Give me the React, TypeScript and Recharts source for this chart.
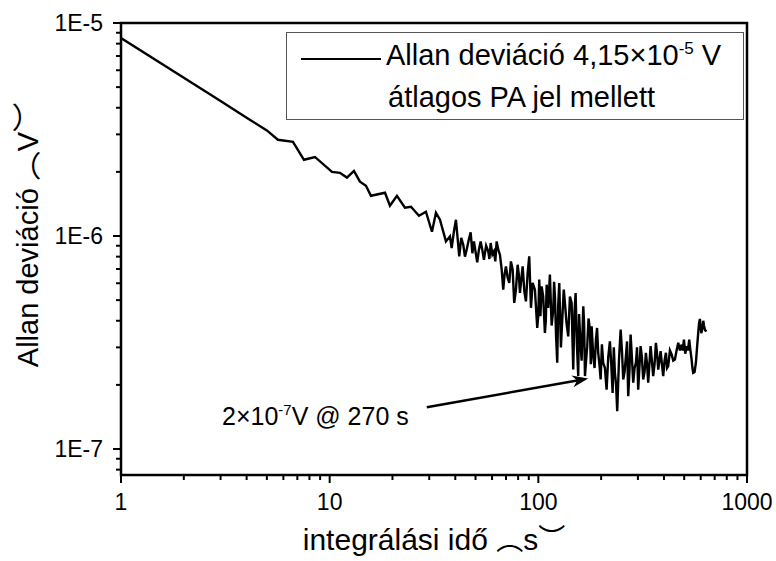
import { LineChart, Line, XAxis, YAxis, ReferenceLine, ReferenceArea } from 'recharts'

// integration time (s)
const tau = [
  1, 2, 3, 4, 5, 5.65, 6.67, 7.53, 8.5, 10.26,
  11.2, 12.1, 13.07, 13.97, 14.93, 15.77, 18.41, 19.45, 21.01, 22.95,
  24.53, 26.79, 28.93, 30.92, 32.31, 33.77, 36.08, 37.71, 38.43, 39.4,
  40.29, 41.78, 42.7, 43.67, 44.5, 45.34, 46.3, 47.38, 48.3, 49.13,
  50.95, 51.9, 52.9, 53.9, 54.86, 56.2, 57.54, 58.3, 59.09, 60.2,
  61.27, 62.2, 63.12, 64.3, 65.46, 66.7, 67.89, 68.9, 69.95, 71.2,
  72.55, 73.9, 75.32, 76.64, 78.1, 79.58, 80.6, 81.64, 82.9, 84.1,
  85.7, 87.22, 88.8, 90.44, 92.2, 93.9, 96.3, 98.79, 99.9, 101,
  102.3, 103.7, 105.5, 107.5, 108.6, 109.6, 111.5, 113.6, 115.8, 117.9,
  119, 120.1, 121.6, 123.2, 124.5, 126, 128.3, 130.7, 132.4, 134.1,
  136.5, 139.1, 141.7, 144.4, 145.7, 147, 149, 150.9, 153, 155.3,
  156.8, 158.3, 161.2, 164.2, 165.7, 167.3, 169.4, 171.5, 174, 176.7,
  178.4, 180.1, 181.7, 183.3, 186, 188.8, 191.2, 193.6, 196.2, 198.9,
  201.7, 204.6, 208.5, 212.4, 216.3, 220.3, 223.6, 227, 230, 232.8,
  235.8, 238.8, 243.4, 248, 251.6, 255.2, 259, 262.9, 266.2, 269.6,
  273.2, 276.8, 280.8, 284.9, 289.2, 293.5, 297.2, 301, 305, 309.1,
  313.6, 318.1, 322.9, 327.7, 331.9, 336.1, 340.6, 345.1, 350.1, 355.2,
  360.6, 366, 370.7, 375.4, 380.4, 385.5, 391.1, 396.7, 402.7, 408.7,
  413.9, 419.2, 427.2, 435.2, 443.2, 451.3, 459.8, 468.3, 477.1, 486,
  492.3, 498.6, 506.1, 513.6, 521.1, 528.6, 535.7, 542.8, 547.6, 552.4,
  560.7, 569, 576.3, 583.7, 589.2, 594.7, 603.7, 612.8, 617.2, 621.6,
  631, 640.4,
]

// Allan deviation (V)
const adev = [
  8.5e-6, 5.53e-6, 4.3e-6, 3.59e-6, 3.13e-6, 2.83e-6, 2.77e-6, 2.28e-6, 2.35e-6, 2.0e-6,
  1.98e-6, 1.88e-6, 2.02e-6, 1.8e-6, 1.72e-6, 1.545e-6, 1.596e-6, 1.387e-6, 1.545e-6, 1.358e-6,
  1.372e-6, 1.245e-6, 1.3e-6, 1.047e-6, 1.286e-6, 1.192e-6, 9.43e-7, 9.96e-7, 8.78e-7, 1.05e-6,
  1.192e-6, 8.02e-7, 9.8e-7, 9.1e-7, 8.0e-7, 8.62e-7, 9.5e-7, 1.04e-6, 8.3e-7, 9.43e-7,
  7.52e-7, 8.6e-7, 9.43e-7, 8.6e-7, 7.74e-7, 9.0e-7, 8.47e-7, 7.8e-7, 9.27e-7, 8.2e-7,
  8.47e-7, 7.6e-7, 9.43e-7, 8.6e-7, 8.17e-7, 7.0e-7, 5.6e-7, 6.6e-7, 7.2e-7, 6.4e-7,
  6.02e-7, 7.6e-7, 6.95e-7, 4.85e-7, 5.6e-7, 7.33e-7, 6.6e-7, 5.4e-7, 6.3e-7, 7.2e-7,
  5.5e-7, 4.93e-7, 6.6e-7, 8.02e-7, 4.6e-7, 6.02e-7, 5.6e-7, 3.7e-7, 4.2e-7, 6.24e-7,
  4.2e-7, 5.8e-7, 5.2e-7, 3.51e-7, 4.0e-7, 5.91e-7, 4.6e-7, 6.59e-7, 3.8e-7, 4.51e-7,
  6.1e-7, 5.21e-7, 3.4e-7, 2.54e-7, 4.7e-7, 6.02e-7, 3.0e-7, 4.36e-7, 5.6e-7, 4.85e-7,
  3.9e-7, 3.38e-7, 5.2e-7, 4.85e-7, 3.3e-7, 2.36e-7, 4.4e-7, 5.4e-7, 3.1e-7, 2.2e-7,
  4.3e-7, 3.51e-7, 2.6e-7, 4.68e-7, 3.9e-7, 2.2e-7, 2.6e-7, 3.04e-7, 4.1e-7, 3.64e-7,
  2.5e-7, 3.77e-7, 3.2e-7, 2.73e-7, 2.4e-7, 3.26e-7, 3.7e-7, 2.83e-7, 2.5e-7, 2.12e-7,
  3.1e-7, 2.54e-7, 2.4e-7, 1.9e-7, 2.7e-7, 3.2e-7, 2.5e-7, 1.835e-7, 3.0e-7, 2.28e-7,
  2.0e-7, 1.505e-7, 2.6e-7, 3.64e-7, 2.9e-7, 2.12e-7, 2.3e-7, 2.73e-7, 3.2e-7, 1.77e-7,
  2.3e-7, 3.45e-7, 2.7e-7, 2.05e-7, 2.4e-7, 2.54e-7, 3.0e-7, 1.9e-7, 2.4e-7, 3.04e-7,
  2.7e-7, 2.12e-7, 2.3e-7, 2.83e-7, 2.5e-7, 2.05e-7, 2.5e-7, 3.04e-7, 2.6e-7, 2.2e-7,
  2.5e-7, 3.15e-7, 2.8e-7, 2.36e-7, 2.6e-7, 2.88e-7, 2.5e-7, 2.2e-7, 2.6e-7, 2.83e-7,
  2.4e-7, 2.45e-7, 2.9e-7, 2.78e-7, 2.6e-7, 2.63e-7, 2.9e-7, 3.15e-7, 2.9e-7, 3.09e-7,
  2.9e-7, 3.26e-7, 2.8e-7, 3.04e-7, 2.9e-7, 3.26e-7, 2.9e-7, 2.63e-7, 2.4e-7, 2.28e-7,
  2.3e-7, 2.54e-7, 3.0e-7, 3.51e-7, 3.9e-7, 4.08e-7, 3.5e-7, 3.7e-7, 4.0e-7, 3.8e-7,
  3.6e-7, 3.57e-7,
]

const xTicks = [
  1, 2, 3, 4, 5, 6, 7, 8, 9,
  10, 20, 30, 40, 50, 60, 70, 80, 90,
  100, 200, 300, 400, 500, 600, 700, 800, 900, 1000,
]
const yTicks = [
  8e-8, 9e-8,
  1e-7, 2e-7, 3e-7, 4e-7, 5e-7, 6e-7, 7e-7, 8e-7, 9e-7,
  1e-6, 2e-6, 3e-6, 4e-6, 5e-6, 6e-6, 7e-6, 8e-6, 9e-6, 1e-5,
]

// arrow annotation: tail near the label, head at the minimum
const arrowFrom = { x: 29.2, y: 1.572e-7 }
const arrowTo = { x: 173.4, y: 2.14e-7 }

const data = tau.map((t, i) => ({ tau: t, adev: adev[i] }))

const FONT = '"Liberation Sans", Arial, sans-serif'
const CJK = '"Noto Sans CJK JP", "Liberation Sans", sans-serif'

const isMajor = (v: number) => Math.abs(Math.log10(v) - Math.round(Math.log10(v))) < 1e-6

function XTick(props: any) {
  const { x, y, payload } = props
  const major = isMajor(payload.value)
  return (
    <g>
      <line x1={x} y1={y} x2={x} y2={y + (major ? 8 : 5)} stroke="#000" strokeWidth={2} />
      {major && (
        <text x={x} y={y + 35} textAnchor="middle" fontSize={23} fontFamily={FONT} fill="#000">
          {String(Math.round(payload.value))}
        </text>
      )}
    </g>
  )
}

function TopTick(props: any) {
  const { x, y } = props
  return <line x1={x} y1={y} x2={x} y2={y - 3} stroke="#999" strokeWidth={1} />
}

function YTick(props: any) {
  const { x, y, payload } = props
  const major = isMajor(payload.value)
  return (
    <g>
      <line x1={x} y1={y} x2={x - (major ? 8 : 5)} y2={y} stroke="#000" strokeWidth={2} />
      {major && (
        <text x={x - 18} y={y + 8} textAnchor="end" fontSize={23} fontFamily={FONT} fill="#000">
          {`1E${Math.round(Math.log10(payload.value))}`}
        </text>
      )}
    </g>
  )
}

function Arrow(props: any) {
  const { x1, y1, x2, y2 } = props
  const ang = Math.atan2(y2 - y1, x2 - x1)
  const len = 16
  const w = 6
  const bx = x2 - len * Math.cos(ang)
  const by = y2 - len * Math.sin(ang)
  const nx = -Math.sin(ang)
  const ny = Math.cos(ang)
  const mx = x2 - len * 0.7 * Math.cos(ang)
  const my = y2 - len * 0.7 * Math.sin(ang)
  return (
    <g>
      <line x1={x1} y1={y1} x2={mx} y2={my} stroke="#000" strokeWidth={2.5} />
      <polygon
        points={`${x2},${y2} ${bx + nx * w},${by + ny * w} ${mx},${my} ${bx - nx * w},${by - ny * w}`}
        fill="#000"
      />
    </g>
  )
}

export default function App() {
  return (
    <div style={{ position: 'absolute', left: 0, top: 0, width: 776, height: 561, background: '#fff', overflow: 'hidden' }}>
      <LineChart width={776} height={561} data={data} margin={{ top: 23, right: 29, bottom: 0, left: 0 }}>
        <XAxis
          dataKey="tau"
          type="number"
          scale="log"
          domain={[1, 1000]}
          ticks={xTicks}
          allowDataOverflow
          axisLine={false}
          tickLine={false}
          tickSize={0}
          tickMargin={0}
          tick={<XTick />}
          height={86}
          interval={0}
        />
        <XAxis
          xAxisId="top"
          orientation="top"
          dataKey="tau"
          type="number"
          scale="log"
          domain={[1, 1000]}
          ticks={xTicks}
          allowDataOverflow
          axisLine={false}
          tickLine={false}
          tickSize={0}
          tickMargin={0}
          tick={<TopTick />}
          height={0}
          interval={0}
        />
        <YAxis
          type="number"
          scale="log"
          domain={[7.55e-8, 1e-5]}
          ticks={yTicks}
          allowDataOverflow
          axisLine={false}
          tickLine={false}
          tickSize={0}
          tickMargin={0}
          tick={<YTick />}
          width={121}
          interval={0}
        />
        <ReferenceArea
          x1={1}
          x2={1000}
          y1={7.55e-8}
          y2={1e-5}
          fill="none"
          stroke="#000"
          strokeWidth={2.5}
          fillOpacity={0}
          ifOverflow="visible"
        />
        <Line
          type="linear"
          dataKey="adev"
          stroke="#000"
          strokeWidth={2.4}
          dot={false}
          isAnimationActive={false}
        />
        <ReferenceLine segment={[arrowFrom, arrowTo]} shape={<Arrow />} ifOverflow="visible" />
      </LineChart>

      {/* legend box */}
      <div
        style={{
          position: 'absolute',
          left: 286,
          top: 32,
          width: 456,
          height: 86,
          border: '1px solid #555',
          fontFamily: FONT,
          fontSize: 29,
          color: '#000',
        }}
      >
        <div style={{ position: 'absolute', left: 14, top: 25, width: 80, height: 2, background: '#000' }} />
        <div style={{ position: 'absolute', left: 99, top: 6, whiteSpace: 'nowrap', lineHeight: '32px' }}>
          Allan deviáció 4,15×10<sup style={{ fontSize: 17, verticalAlign: 'top', lineHeight: '20px' }}>-5</sup> V
        </div>
        <div style={{ position: 'absolute', left: 101, top: 48, whiteSpace: 'nowrap', lineHeight: '32px' }}>
          átlagos PA jel mellett
        </div>
      </div>

      {/* annotation text */}
      <div
        style={{
          position: 'absolute',
          left: 222,
          top: 402,
          fontFamily: FONT,
          fontSize: 25,
          lineHeight: '28px',
          whiteSpace: 'nowrap',
          color: '#000',
        }}
      >
        2×10<sup style={{ fontSize: 15, verticalAlign: 'top', lineHeight: '16px' }}>-7</sup>V @ 270 s
      </div>

      {/* x axis title */}
      <div
        style={{
          position: 'absolute',
          left: 234,
          width: 400,
          top: 524,
          textAlign: 'center',
          fontFamily: FONT,
          fontSize: 30,
          lineHeight: '30px',
          whiteSpace: 'nowrap',
          color: '#000',
        }}
      >
        integrálási idő <span style={{ fontFamily: CJK, fontSize: 27 }}>︵</span>s<span style={{ fontFamily: CJK, fontSize: 27, position: 'relative', top: -2 }}>︶</span>
      </div>

      {/* y axis title */}
      <div
        style={{
          position: 'absolute',
          left: 25 - 200,
          width: 400,
          top: 235 - 15,
          textAlign: 'center',
          fontFamily: FONT,
          fontSize: 29,
          lineHeight: '30px',
          whiteSpace: 'nowrap',
          color: '#000',
          transform: 'rotate(-90deg)',
          transformOrigin: '200px 15px',
        }}
      >
        Allan deviáció <span style={{ fontFamily: CJK }}>︵</span>V<span style={{ fontFamily: CJK }}>︶</span>
      </div>
    </div>
  )
}
